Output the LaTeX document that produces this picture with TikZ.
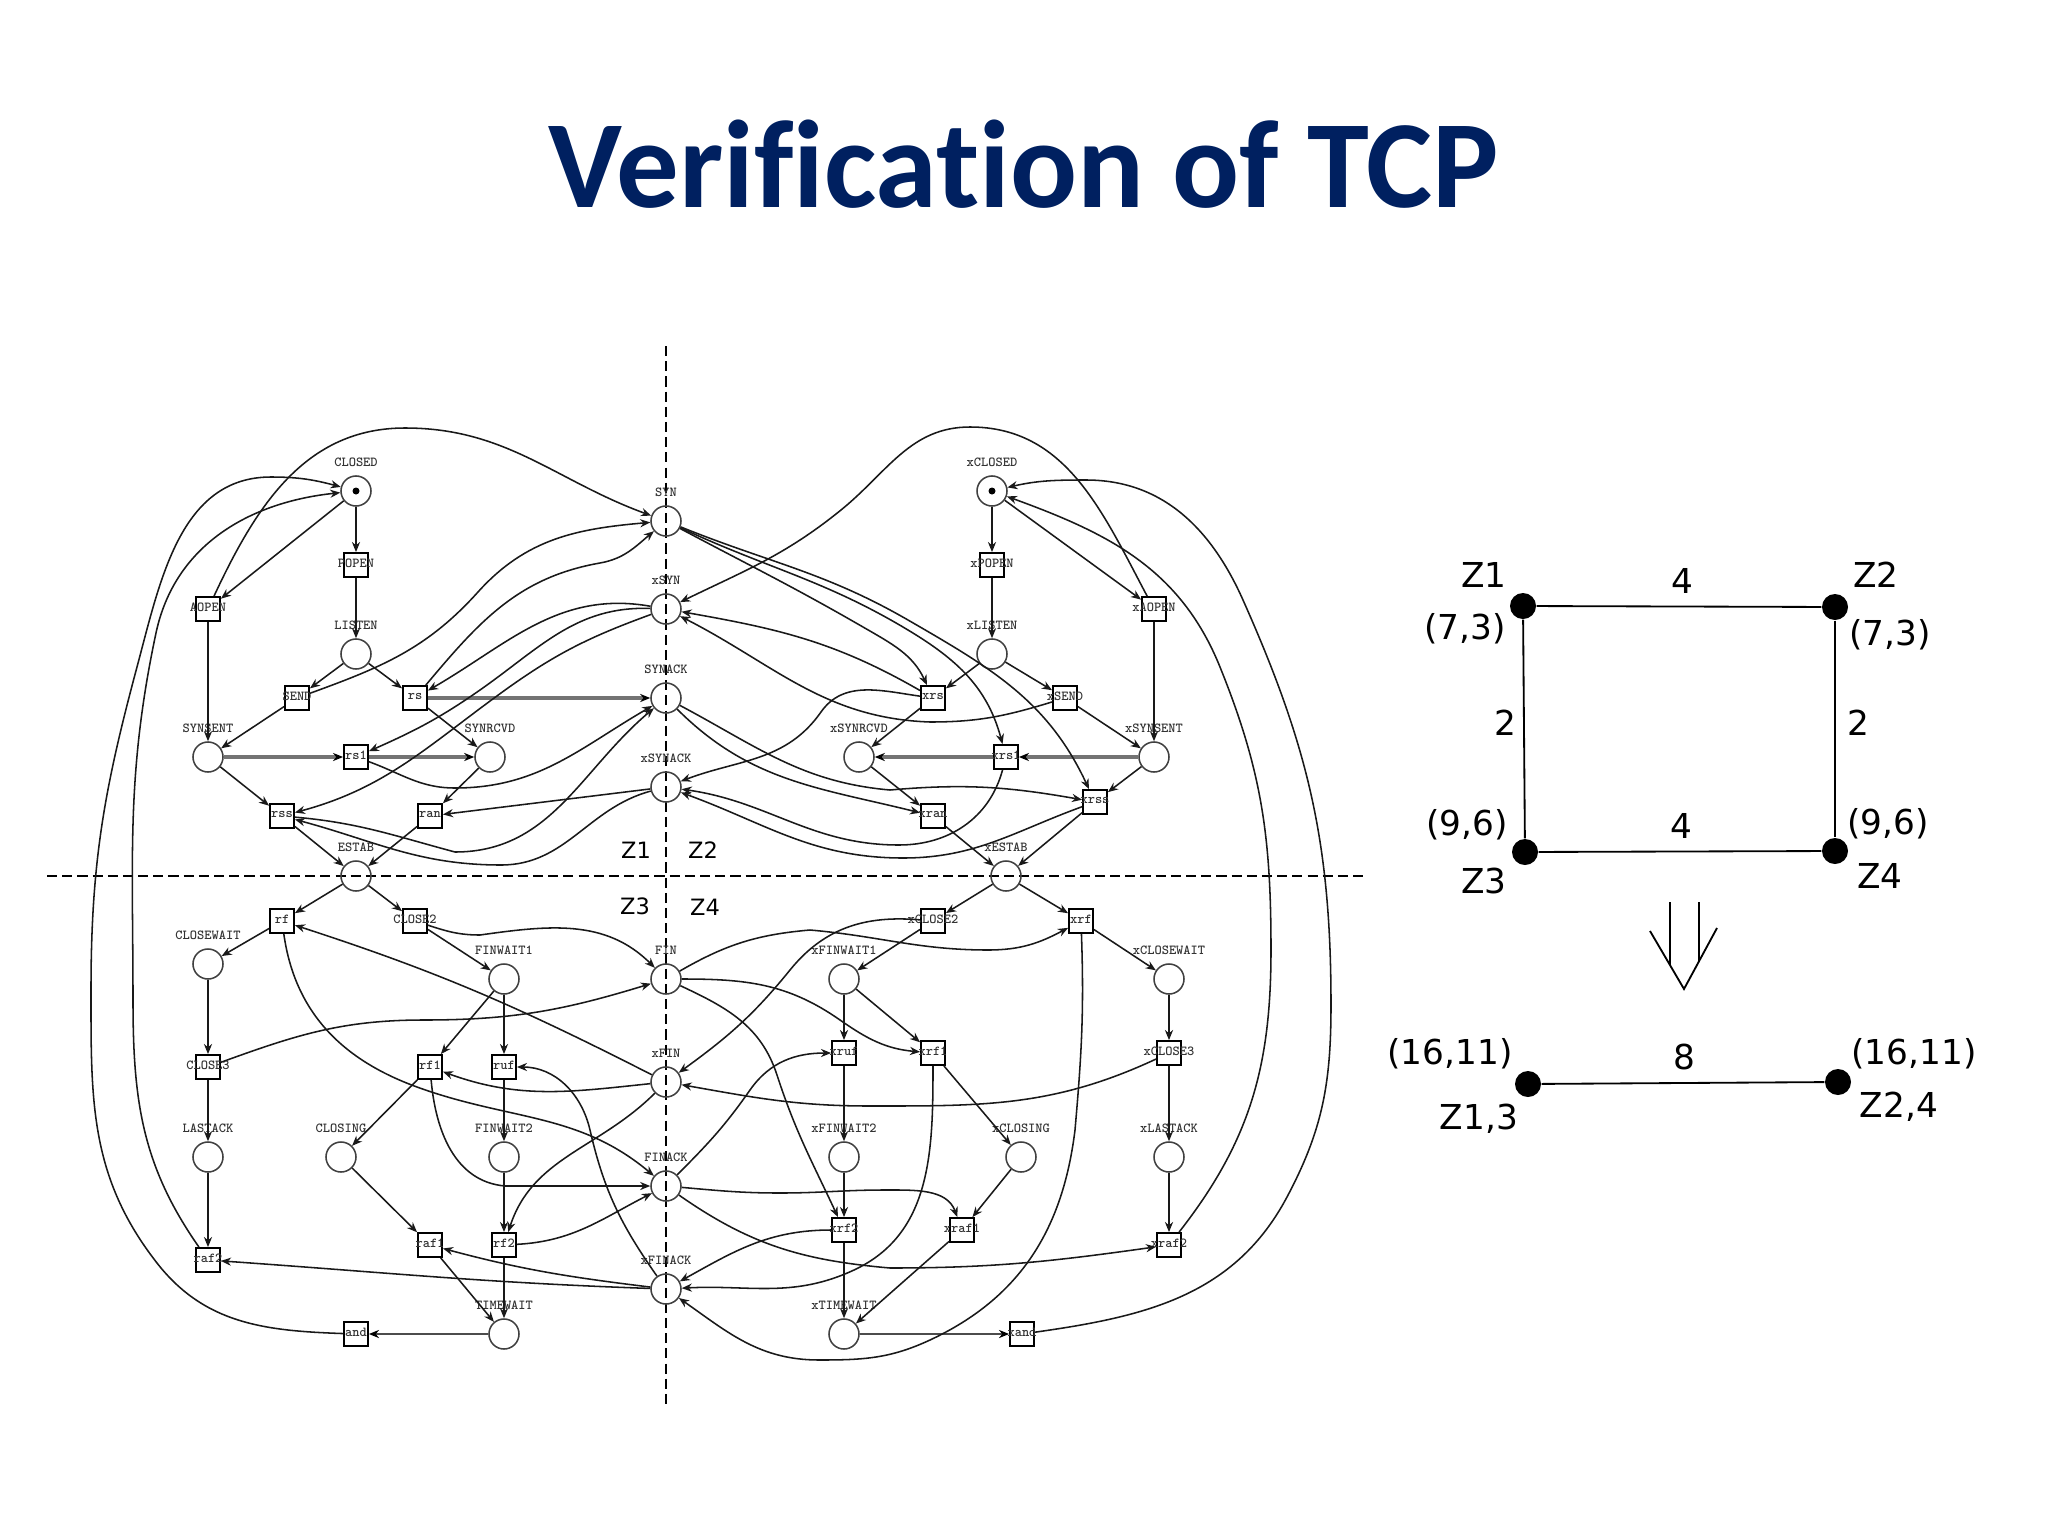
\documentclass[tikz,border=0pt]{standalone}
\usepackage{fontspec}
\usetikzlibrary{arrows.meta}
\newfontfamily\titlefont{Carlito}[Ligatures=NoCommon]
\newfontfamily\zonefont{DejaVu Sans}
\definecolor{titleblue}{RGB}{0,32,96}
\tikzset{
    tinylab/.style={font=\ttfamily\bfseries\fontsize{4.9}{6}\selectfont, inner sep=0pt, text=black!80},
    placelab/.style={tinylab, label distance=0.1cm},
    place/.style={circle, draw=black!75, line width=0.55pt, minimum size=0.375cm, inner sep=0pt, label={[placelab]above:#1}},
    trans/.style={rectangle, draw=black, line width=0.65pt, minimum size=0.3cm, inner sep=0pt, label={[tinylab, yshift=0.5pt]center:#1}},
    link/.style={-{Stealth[length=3.6pt,width=2.9pt]}, line width=0.55pt, black!90},
    hlink/.style={-{Stealth[length=3.6pt,width=2.9pt,black]}, line width=1.1pt, black!55},
    axisline/.style={line width=0.55pt, dash pattern=on 3.6pt off 1.8pt},
    zonelab/.style={font=\zonefont\fontsize{8}{10}\selectfont, inner sep=0pt},
    graphlab/.style={font=\zonefont\fontsize{12.2}{14}\selectfont, inner sep=0pt},
    zdot/.style={circle, fill=black, minimum size=0.325cm, inner sep=0pt},
    graphline/.style={line width=0.65pt}
}

\begin{document}
\begin{tikzpicture}[x=0.0125cm, y=-0.0125cm]
    \useasboundingbox (0,0) rectangle (2048,1536);

    % Title
    \node[font=\titlefont\bfseries\fontsize{44.4}{50}\selectfont, text=titleblue, anchor=base, inner sep=0pt] (title) at (1024,207) {Verification of TCP};

    % Axes
    \coordinate (axisN) at (666,346);
    \coordinate (axisS) at (666,1404);
    \coordinate (axisW) at (47,876);
    \coordinate (axisE) at (1363,876);
    \draw[axisline] (axisN) -- (axisS);
    \draw[axisline] (axisW) -- (axisE);
    \node[zonelab] (zone1) at (636,850) {Z1};
    \node[zonelab] (zone2) at (703,850) {Z2};
    \node[zonelab] (zone3) at (635,906) {Z3};
    \node[zonelab] (zone4) at (705,907) {Z4};

    % Shared places
    \node[place=SYN] (SYN) at (666,521) {};
    \node[place=xSYN] (xSYN) at (666,609) {};
    \node[place=SYNACK] (SYNACK) at (666,698) {};
    \node[place=xSYNACK] (xSYNACK) at (666,787) {};
    \node[place=FIN] (FIN) at (666,979) {};
    \node[place=xFIN] (xFIN) at (666,1082) {};
    \node[place=FINACK] (FINACK) at (666,1186) {};
    \node[place=xFINACK] (xFINACK) at (666,1289) {};

    % Upper left net
    \node[place=CLOSED] (CLOSED) at (356,491) {};
    \fill (CLOSED) circle (3.5);
    \node[trans=POPEN] (POPEN) at (356,565) {};
    \node[trans=AOPEN] (AOPEN) at (208,609) {};
    \node[place=LISTEN] (LISTEN) at (356,654) {};
    \node[trans=SEND] (SEND) at (297,698) {};
    \node[trans=rs] (rs) at (415,698) {};
    \node[place=SYNSENT] (SYNSENT) at (208,757) {};
    \node[trans=rs1] (rs1) at (356,757) {};
    \node[place=SYNRCVD] (SYNRCVD) at (490,757) {};
    \node[trans=rss] (rss) at (282,816) {};
    \node[trans=ran] (ran) at (430,816) {};
    \node[place=ESTAB] (ESTAB) at (356,876) {};

    % Upper right net
    \node[place=xCLOSED] (xCLOSED) at (992,491) {};
    \fill (xCLOSED) circle (3.5);
    \node[trans=xPOPEN] (xPOPEN) at (992,565) {};
    \node[trans=xAOPEN] (xAOPEN) at (1154,609) {};
    \node[place=xLISTEN] (xLISTEN) at (992,654) {};
    \node[trans=xrs] (xrs) at (933,698) {};
    \node[trans=xSEND] (xSEND) at (1065,698) {};
    \node[place=xSYNRCVD] (xSYNRCVD) at (859,757) {};
    \node[trans=xrs1] (xrs1) at (1006,757) {};
    \node[place=xSYNSENT] (xSYNSENT) at (1154,757) {};
    \node[trans=xrss] (xrss) at (1095,802) {};
    \node[trans=xran] (xran) at (933,816) {};
    \node[place=xESTAB] (xESTAB) at (1006,876) {};

    % Lower left net
    \node[trans=rf] (rf) at (282,921) {};
    \node[trans=CLOSE2] (CLOSE2) at (415,921) {};
    \node[place=CLOSEWAIT] (CLOSEWAIT) at (208,964) {};
    \node[place=FINWAIT1] (FINWAIT1) at (504,979) {};
    \node[trans=CLOSE3] (CLOSE3) at (208,1067) {};
    \node[trans=rf1] (rf1) at (430,1067) {};
    \node[trans=ruf] (ruf) at (504,1067) {};
    \node[place=LASTACK] (LASTACK) at (208,1157) {};
    \node[place=CLOSING] (CLOSING) at (341,1157) {};
    \node[place=FINWAIT2] (FINWAIT2) at (504,1157) {};
    \node[trans=raf2] (raf2) at (208,1260) {};
    \node[trans=raf1] (raf1) at (430,1245) {};
    \node[trans=rf2] (rf2) at (504,1245) {};
    \node[place=TIMEWAIT] (TIMEWAIT) at (504,1334) {};
    \node[trans=and] (and) at (356,1334) {};

    % Lower right net
    \node[trans=xCLOSE2] (xCLOSE2) at (933,921) {};
    \node[trans=xrf] (xrf) at (1081,921) {};
    \node[place=xFINWAIT1] (xFINWAIT1) at (844,979) {};
    \node[place=xCLOSEWAIT] (xCLOSEWAIT) at (1169,979) {};
    \node[trans=xruf] (xruf) at (844,1053) {};
    \node[trans=xrf1] (xrf1) at (933,1053) {};
    \node[trans=xCLOSE3] (xCLOSE3) at (1169,1053) {};
    \node[place=xFINWAIT2] (xFINWAIT2) at (844,1157) {};
    \node[place=xCLOSING] (xCLOSING) at (1021,1157) {};
    \node[place=xLASTACK] (xLASTACK) at (1169,1157) {};
    \node[trans=xrf2] (xrf2) at (844,1230) {};
    \node[trans=xraf1] (xraf1) at (962,1230) {};
    \node[trans=xraf2] (xraf2) at (1169,1245) {};
    \node[place=xTIMEWAIT] (xTIMEWAIT) at (844,1334) {};
    \node[trans=xand] (xand) at (1022,1334) {};

    % Straight arcs, upper half
    \draw[link] (CLOSED) -- (POPEN);
    \draw[link] (POPEN) -- (LISTEN);
    \draw[link] (CLOSED) -- (AOPEN);
    \draw[link] (AOPEN) -- (SYNSENT);
    \draw[link] (LISTEN) -- (SEND);
    \draw[link] (LISTEN) -- (rs);
    \draw[link] (SEND) -- (SYNSENT);
    \draw[link] (rs) -- (SYNRCVD);
    \draw[link] (SYNSENT) -- (rss);
    \draw[link] (SYNRCVD) -- (ran);
    \draw[link] (rss) -- (ESTAB);
    \draw[link] (ran) -- (ESTAB);
    \draw[link] (xSYNACK) -- (ran);
    \draw[hlink] (rs) -- (SYNACK);
    \draw[hlink] (SYNSENT) -- (rs1);
    \draw[hlink] (rs1) -- (SYNRCVD);
    \draw[link] (xCLOSED) -- (xPOPEN);
    \draw[link] (xPOPEN) -- (xLISTEN);
    \draw[link] (xCLOSED) -- (xAOPEN);
    \draw[link] (xAOPEN) -- (xSYNSENT);
    \draw[link] (xLISTEN) -- (xrs);
    \draw[link] (xLISTEN) -- (xSEND);
    \draw[link] (xSEND) -- (xSYNSENT);
    \draw[link] (xrs) -- (xSYNRCVD);
    \draw[link] (xSYNSENT) -- (xrss);
    \draw[link] (xSYNRCVD) -- (xran);
    \draw[link] (xran) -- (xESTAB);
    \draw[link] (xrss) -- (xESTAB);
    \draw[hlink] (xSYNSENT) -- (xrs1);
    \draw[hlink] (xrs1) -- (xSYNRCVD);

    % Straight arcs, lower half
    \draw[link] (ESTAB) -- (rf);
    \draw[link] (ESTAB) -- (CLOSE2);
    \draw[link] (rf) -- (CLOSEWAIT);
    \draw[link] (CLOSEWAIT) -- (CLOSE3);
    \draw[link] (CLOSE3) -- (LASTACK);
    \draw[link] (LASTACK) -- (raf2);
    \draw[link] (CLOSE2) -- (FINWAIT1);
    \draw[link] (FINWAIT1) -- (rf1);
    \draw[link] (FINWAIT1) -- (ruf);
    \draw[link] (ruf) -- (FINWAIT2);
    \draw[link] (FINWAIT2) -- (rf2);
    \draw[link] (rf2) -- (TIMEWAIT);
    \draw[link] (rf1) -- (CLOSING);
    \draw[link] (CLOSING) -- (raf1);
    \draw[link] (raf1) -- (TIMEWAIT);
    \draw[hlink, line width=0.8pt, black!70] (TIMEWAIT) -- (and);
    \draw[link] (xESTAB) -- (xCLOSE2);
    \draw[link] (xESTAB) -- (xrf);
    \draw[link] (xCLOSE2) -- (xFINWAIT1);
    \draw[link] (xrf) -- (xCLOSEWAIT);
    \draw[link] (xCLOSEWAIT) -- (xCLOSE3);
    \draw[link] (xCLOSE3) -- (xLASTACK);
    \draw[link] (xLASTACK) -- (xraf2);
    \draw[link] (xFINWAIT1) -- (xruf);
    \draw[link] (xFINWAIT1) -- (xrf1);
    \draw[link] (xruf) -- (xFINWAIT2);
    \draw[link] (xFINWAIT2) -- (xrf2);
    \draw[link] (xrf2) -- (xTIMEWAIT);
    \draw[link] (xrf1) -- (xCLOSING);
    \draw[link] (xCLOSING) -- (xraf1);
    \draw[link] (xraf1) -- (xTIMEWAIT);
    \draw[hlink, line width=0.8pt, black!70] (xTIMEWAIT) -- (xand);

    % Curved arcs, upper left
    \draw[link] (AOPEN) to[out=65,in=180] (405,428) to[out=0,in=160] (SYN);
    \draw[link] (SEND) to[out=20,in=228] (478,592) to[out=48,in=185] (SYN);
    \draw[link] (rs) to[out=50,in=190] (600,563) to[out=10,in=220] (SYN);
    \draw[link] (xSYN) to[out=170,in=30] (rs);
    \draw[link] (xSYN) to[out=178,in=35] (480,690) to[out=215,in=24] (rs1);
    \draw[link] (xSYN) to[out=200,in=36] (501,693) to[out=216,in=15] (rss);
    \draw[link] (rs1) to[out=-20,in=180] (455,788) to[out=0,in=210] (SYNACK);
    \draw[link] (rss) to[out=-5,in=165] (455,852) to[out=0,in=220] (SYNACK);
    \draw[link] (xSYNACK) to[out=195,in=0] (501,865) to[out=180,in=-15] (rss);

    % Curved arcs, upper right
    \draw[link] (xAOPEN) to[out=118,in=0] (970,427) to[out=180,in=39] (841,510) to[out=219,in=26] (xSYN);
    \draw[link] (xSEND) to[out=197,in=0] (930,722) to[out=178,in=-27] (xSYN);
    \draw[link] (xrs) to[out=150,in=-10] (xSYN);
    \draw[link] (SYN) to[out=-28,in=150] (863,627) to[out=-30,in=115] (xrs);
    \draw[link] (SYN) to[out=-25,in=149] (908,630) to[out=-31,in=105] (xrs1);
    \draw[link] (SYN) to[out=-22,in=150] (908,620) to[out=-30,in=115] (xrss);
    \draw[link] (xrs) to[out=172,in=55] (821,712) to[out=235,in=21] (xSYNACK);
    \draw[link] (SYNACK) to[out=-28,in=175] (890,790) to[out=5,in=170] (xrss);
    \draw[link] (SYNACK) to[out=-45,in=166] (xran);
    \draw[link] (xrs1) to[out=-105,in=0] (899,845) to[out=180,in=-8] (xSYNACK);
    \draw[link] (xrss) to[out=200,in=0] (903,858) to[out=180,in=-20] (xSYNACK);

    % Outer arcs back to the closed places
    \draw[link] (raf2) to[out=125,in=-90] (133,1000) to[out=90,in=-102] (156,633) to[out=78,in=186] (CLOSED);
    \draw[link] (and) to[out=178,in=-52] (157,1263) to[out=128,in=-90] (91,990) to[out=90,in=-105] (137,667) to[out=75,in=180] (271,477) to[out=0,in=165] (CLOSED);
    \draw[link] (xraf2) to[out=52,in=-90] (1271,950) to[out=90,in=-68] (1220,667) to[out=112,in=-20] (xCLOSED);
    \draw[link] (xand) to[out=8,in=-118] (1287,1197) to[out=62,in=-90] (1331,1005) to[out=90,in=-66] (1243,600) to[out=114,in=0] (1086,480) to[out=180,in=13] (xCLOSED);

    % Curved arcs, lower left
    \draw[link] (CLOSE2) to[out=-18,in=180] (480,935) to[out=8,in=135] (FIN);
    \draw[link] (CLOSE3) to[out=20,in=180] (424,1020) to[out=0,in=197] (FIN);
    \draw[link] (rf) to[out=-82,in=160] (417,1087) to[out=-20,in=140] (FINACK);
    \draw[link] (rf1) to[out=-85,in=175] (505,1186) -- (FINACK);
    \draw[link] (xFIN) to[out=153,in=-18] (rf);
    \draw[link] (xFIN) to[out=186,in=-20] (rf1);
    \draw[link] (xFIN) to[out=225,in=72] (rf2);
    \draw[link] (rf2) to[out=3,in=207] (FINACK);
    \draw[link] (xFINACK) to[out=125,in=-77] (590,1130) to[out=103,in=0] (ruf);
    \draw[link] (xFINACK) to[out=173,in=-15] (raf1);
    \draw[link] (xFINACK) to[out=178,in=-4] (raf2);

    % Curved arcs, lower right
    \draw[link] (xCLOSE2) to[out=175,in=51] (790,970) to[out=231,in=36] (xFIN);
    \draw[link] (FIN) to[out=30,in=185] (810,930) to[out=-5,in=180] (988,950) to[out=0,in=208] (xrf);
    \draw[link] (FIN) to[out=0,in=145] (840,1020) to[out=-35,in=175] (xrf1);
    \draw[link] (FIN) to[out=-25,in=108] (777,1075) to[out=-72,in=115] (xrf2);
    \draw[link] (xCLOSE3) to[out=205,in=0] (870,1106) to[out=180,in=-10] (xFIN);
    \draw[link] (FINACK) to[out=45,in=235] (750,1090) to[out=55,in=180] (xruf);
    \draw[link] (FINACK) to[out=-5,in=180] (780,1193) to[out=0,in=180] (885,1190) to[out=0,in=110] (xraf1);
    \draw[link] (FINACK) to[out=-35,in=175] (890,1268) to[out=0,in=188] (xraf2);
    \draw[link] (xrf2) to[out=180,in=29] (xFINACK);
    \draw[link] (xrf1) to[out=-90,in=25] (854,1270) to[out=205,in=3] (xFINACK);
    \draw[link] (xrf) to[out=-88,in=85] (1075,1130) to[out=-97,in=25] (930,1340) to[out=205,in=0] (819,1360) to[out=180,in=-35] (xFINACK);

    % Zone graph
    \node[zdot] (Z1) at (1523,606) {};
    \node[zdot] (Z2) at (1835,607) {};
    \node[zdot] (Z3) at (1525,852) {};
    \node[zdot] (Z4) at (1835,851) {};
    \draw[graphline] (Z1) -- (Z2);
    \draw[graphline] (Z1) -- (Z3);
    \draw[graphline] (Z2) -- (Z4);
    \draw[graphline] (Z3) -- (Z4);
    \node[graphlab] (nameZ1) at (1484,575) {Z1};
    \node[graphlab] (nameZ2) at (1876,575) {Z2};
    \node[graphlab] (nameZ3) at (1484,881) {Z3};
    \node[graphlab] (nameZ4) at (1880,876) {Z4};
    \node[graphlab] (costZ1) at (1465,629) {(7,3)};
    \node[graphlab] (costZ2) at (1890,635) {(7,3)};
    \node[graphlab] (costZ3) at (1467,825) {(9,6)};
    \node[graphlab] (costZ4) at (1888,824) {(9,6)};
    \node[graphlab] (top) at (1682,581) {4};
    \node[graphlab] (bottom) at (1681,826) {4};
    \node[graphlab] (left) at (1505,723) {2};
    \node[graphlab] (right) at (1858,723) {2};

    % Double arrow
    \coordinate (shaftA) at (1670,902);
    \coordinate (shaftB) at (1699,902);
    \coordinate (wingL) at (1650,931);
    \coordinate (wingR) at (1717,928);
    \coordinate (tip) at (1684,989);
    \draw[graphline] (shaftA) -- (1670,965);
    \draw[graphline] (shaftB) -- (1699,961);
    \draw[graphline] (wingL) -- (tip) -- (wingR);

    % Merged graph
    \node[zdot] (Z13) at (1528,1084) {};
    \node[zdot] (Z24) at (1838,1082) {};
    \draw[graphline] (Z13) -- (Z24);
    \node[graphlab] (costZ13) at (1450,1054) {(16,11)};
    \node[graphlab] (costZ24) at (1914,1054) {(16,11)};
    \node[graphlab] (nameZ13) at (1479,1119) {Z1,3};
    \node[graphlab] (nameZ24) at (1899,1107) {Z2,4};
    \node[graphlab] (merged) at (1684,1057) {8};
\end{tikzpicture}
\end{document}
